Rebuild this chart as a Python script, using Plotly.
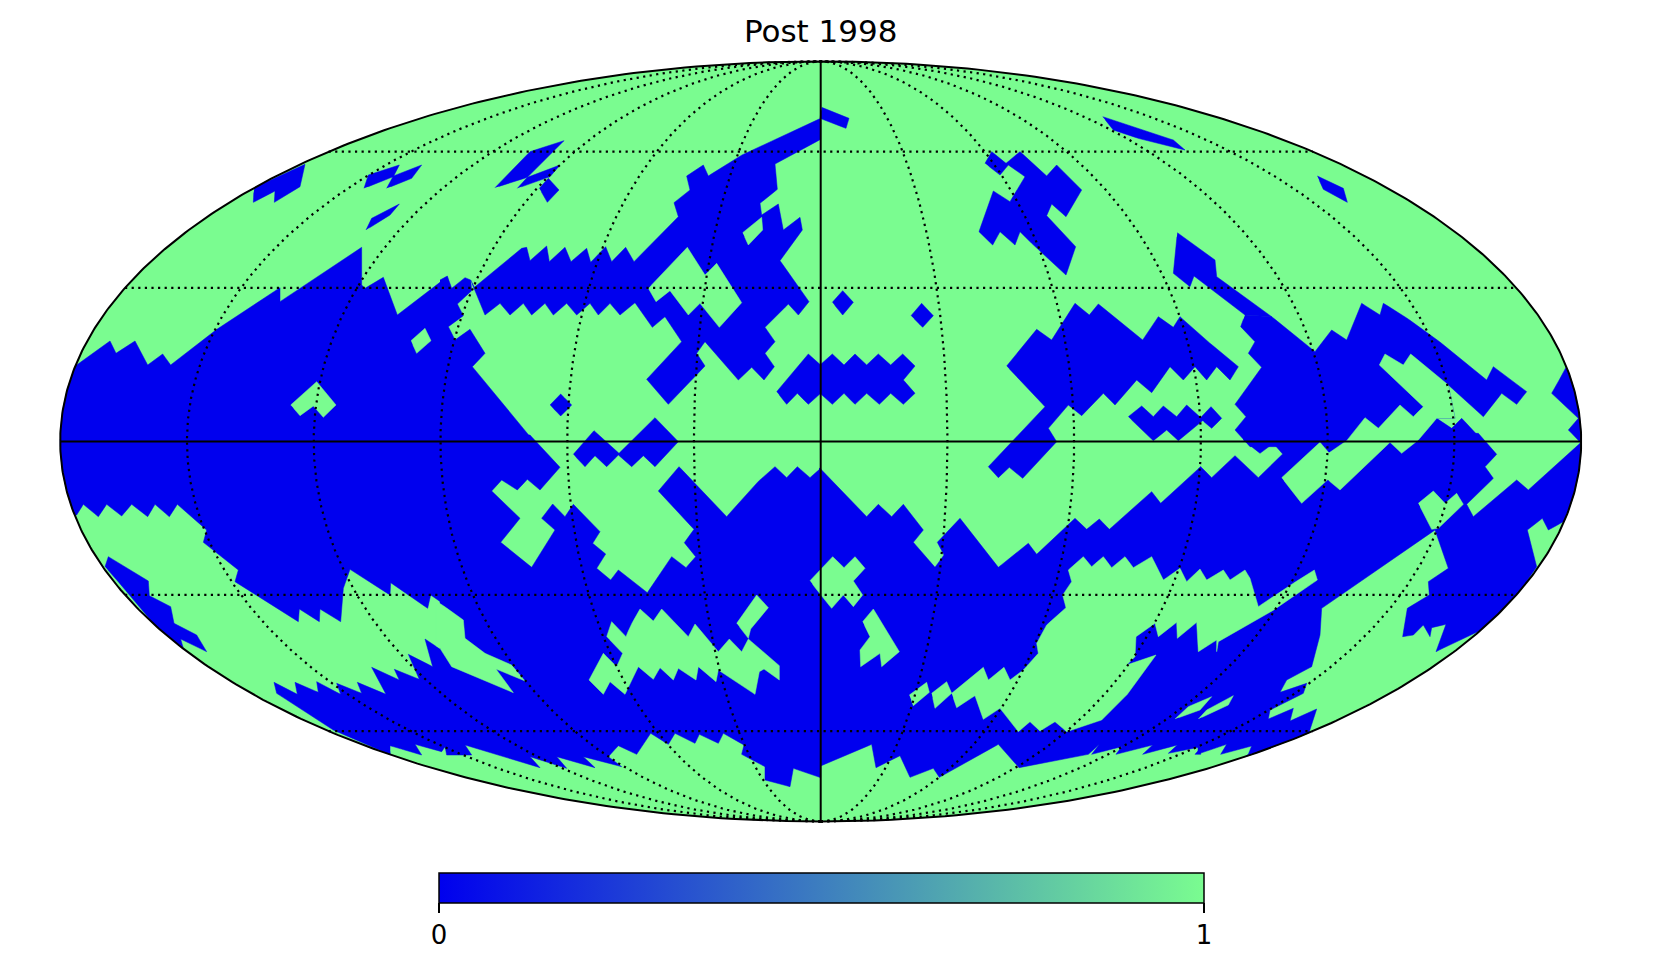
import numpy as np
import plotly.graph_objects as go

TITLE = "Post 1998"
COLORBAR_TICKS = [0, 1]
GRAT_LON = [-150, -120, -90, -60, -30, 30, 60, 90, 120, 150]
GRAT_LAT = [-60, -30, 30, 60]
BLUE = "#0000EE"
GREEN = "#7AFC90"

# Outlines of the 0-valued and 1-valued map regions, read sector by sector.
# Units: one third of a picture pixel from each sector's corner.
SECTORS = {"nw1": (50, 50), "nw2": (440, 50), "ne1": (820, 50), "ne2": (1200, 50),
           "sw1": (50, 435), "sw2": (440, 435), "se1": (820, 435), "se2": (1200, 435)}

blue_nw1 = [
    [(0,1190),(0,945),(80,945),(180,873),(198,910),(255,873),(293,945),(338,912),(362,945),(490,845),(690,713),(690,755),(935,592),(935,705),(945,715),(1000,682),(1042,795),(1170,697),(1170,1190)],
    [(612,413),(765,343),(750,410),(673,457),(675,423),(610,457)],
    [(942,415),(955,375),(1048,345),(1030,380)],
    [(1010,415),(1030,378),(1115,345),(1085,385)],
    [(948,540),(965,505),(1048,462),(1020,495)],
]
green_nw1 = [
    [(1083,872),(1125,835),(1143,872),(1100,910)],
    [(722,1065),(800,995),(858,1065),(820,1102),(790,1068),(750,1097)],
]
blue_nw2 = [
    [(165,413),(270,305),(372,272),(262,382)],
    [(232,415),(262,382),(360,345),(330,380)],
    [(298,415),(325,385),(357,420),(322,457)],
    [(0,690),(22,678),(35,715),(75,683),(92,690),(95,722),(52,762),(70,797),(25,830),(45,870),(90,838),(135,910),(97,950),(280,1172),(280,1190),(0,1190)],
    [(92,690),(103,712),(245,595),(260,592),(270,632),(320,588),(328,635),(375,592),(393,635),(440,595),(452,637),(497,590),(515,635),(557,592),(582,635),(715,500),(702,458),(750,420),(740,378),(790,345),(805,378),(895,320),(1142,205),(1142,268),(1005,342),(1012,418),(960,460),(965,495),(1015,462),(1030,540),(1080,502),(1087,540),(1020,632),(1107,755),(1075,795),(1045,762),(975,832),(1005,875),(975,910),(1003,950),(972,990),(935,952),(895,990),(795,875),(770,910),(795,948),(685,1063),(620,988),(725,875),(675,800),(637,832),(585,758),(540,795),(510,760),(475,795),(450,760),(410,795),(380,760),(340,795),(315,760),(275,795),(250,760),(210,795),(180,760),(135,795)],
    [(1010,1025),(1105,912),(1142,945),(1142,1030),(1105,1063),(1072,1030),(1040,1063)],
    [(330,1065),(362,1032),(395,1065),(362,1098)],
]
green_nw2 = [
    [(625,715),(648,755),(690,722),(745,795),(780,760),(838,832),(905,758),(830,640),(795,675),(742,592)],
    [(908,548),(965,502),(968,540),(925,585)],
]
blue_ne1 = [
    [(5,172),(87,205),(78,235),(0,205)],
    [(37,757),(68,722),(100,757),(68,795)],
    [(273,797),(305,760),(340,797),(308,832)],
    [(0,945),(37,912),(72,945),(105,912),(140,945),(175,912),(212,945),(248,912),(285,948),(250,990),(285,1030),(250,1063),(212,1030),(178,1063),(140,1030),(105,1063),(72,1030),(37,1063),(0,1030)],
    [(848,200),(950,235),(1060,270),(1095,300),(970,270),(880,240)],
    [(495,340),(515,305),(558,340),(600,305),(680,378),(710,345),(785,420),(738,500),(695,462),(680,497),(767,590),(738,675),(660,605),(600,545),(585,585),(540,545),(518,585),(477,545),(520,423),(570,455),(615,380),(565,345),(540,375)],
    [(1072,548),(1185,630),(1190,680),(1355,800),(1275,795),(1122,678),(1110,710),(1060,670)],
    [(560,948),(650,838),(695,870),(765,760),(808,795),(835,762),(968,870),(1015,800),(1060,832),(1080,800),(1140,855),(1255,950),(1230,990),(1190,950),(1160,990),(1125,950),(1090,990),(1050,950),(995,1028),(950,990),(885,1065),(850,1030),(785,1097),(745,1065),(685,1135),(710,1175),(608,1285),(568,1252),(535,1283),(505,1250),(675,1070)],
    [(925,1100),(965,1068),(1000,1100),(1030,1068),(1070,1100),(1100,1065),(1150,1110),(1115,1140),(1075,1172),(1040,1140),(1000,1172),(960,1135)],
]
blue_ne2 = [
    [(352,378),(430,415),(442,457),(370,418)],
    [(1100,950),(1055,1030),(1135,1105),(1105,1140),(1145,1180),(1160,1050)],
    [(135,795),(215,800),(345,905),(395,840),(440,870),(485,760),(540,795),(550,760),(600,790),(700,860),(860,990),(880,950),(980,1025),(950,1063),(905,1030),(850,1100),(745,1005),(765,1105),(710,1105),(655,1170),(650,1190),(150,1190),(105,1140),(138,1100),(105,1063),(185,952),(145,910),(165,875),(122,830)],
    [(655,1170),(710,1105),(755,1135),(785,1105),(850,1172),(855,1180),(650,1180)],
    [(0,1105),(33,1070),(65,1105),(35,1135)],
]
blue_sw1 = [
    [(0,0),(1200,0),(1200,520),(1142,480),(1133,520),(1022,443),(1020,480),(900,403),(880,460),(872,560),(810,522),(808,560),(748,522),(745,560),(555,440),(565,405),(460,322),(470,285),(382,208),(358,245),(315,208),(293,245),(245,208),(215,243),(170,208),(145,245),(100,208),(80,240),(0,240)],
    [(165,395),(175,365),(295,438),(298,482),(362,515),(372,565),(440,600),(470,650),(392,612),(400,640),(330,590),(240,480)],
    [(1170,642),(1125,612),(1148,695),(1075,658),(1108,733),(1033,703),(1048,735),(965,697),(1008,778),(922,742),(935,775),(860,745),(872,778),(800,740),(805,772),(735,742),(742,778),(672,742),(680,775),(850,885),(1020,960),(1020,932),(1115,960),(1095,928),(1175,950),(1185,935),(1200,955)],
]
blue_sw2 = [
    [(0,0),(270,0),(360,97),(300,165),(262,133),(232,165),(185,135),(155,168),(240,250),(182,322),(275,397),(345,285),(305,250),(338,207),(375,245),(400,208),(480,290),(458,325),(497,357),(470,400),(512,435),(535,405),(622,473),(695,365),(738,398),(767,365),(733,323),(762,283),(655,168),(717,95),(860,245),(945,148),(1005,95),(1040,128),(1072,95),(1110,128),(1142,100),(1142,1028),(1060,1000),(1050,1055),(975,1035),(975,995),(905,958),(912,930),(850,895),(835,925),(778,898),(765,925),(705,895),(685,928),(632,895),(590,958),(535,932),(505,965),(545,995),(430,965),(465,998),(350,965),(380,1000),(270,965),(300,998),(75,930),(95,960),(20,960),(15,935),(0,935)],
    [(400,58),(462,-13),(537,55),(645,-52),(715,20),(645,95),(610,62),(575,95),(535,60),(500,95),(465,62),(435,95)],
]
green_sw2 = [
    [(-12,498),(0,505),(70,555),(75,610),(135,655),(215,690),(255,738),(168,702),(220,773),(35,695),(0,640),(-12,632)],
    [(500,605),(515,560),(558,605),(570,575),(600,522),(640,558),(665,522),(745,605),(765,567),(835,650),(868,612),(905,650),(925,612),(1018,692),(1018,735),(972,702),(958,710),(945,778),(835,705),(828,740),(775,695),(768,735),(715,700),(700,735),(660,698),(640,733),(595,695),(555,778),(510,740),(490,778),(447,735),(490,655),(530,695),(548,655)],
    [(890,565),(950,480),(985,518),(932,582),(925,610)],
]
blue_se1 = [
    [(-3,100),(0,100),(140,245),(175,208),(215,245),(250,208),(310,285),(280,322),(345,397),(372,360),(352,322),(420,250),(535,397),(625,325),(650,358),(765,250),(800,283),(838,252),(868,283),(995,170),(1022,205),(1142,95),(1142,958),(1125,958),(1145,935),(1045,955),(1072,930),(968,958),(998,930),(888,958),(905,935),(815,958),(838,928),(805,958),(597,998),(535,928),(358,1027),(340,1000),(270,1027),(240,962),(168,998),(155,928),(-3,995)],
]
green_se1 = [
    [(-30,437),(38,365),(72,398),(105,365),(135,400),(100,438),(128,480),(100,515),(70,480),(35,520),(0,478)],
    [(128,560),(160,522),(238,650),(185,695),(180,655),(122,695),(120,645),(150,605)],
    [(268,780),(320,742),(328,772),(280,812)],
    [(335,775),(380,740),(395,775),(345,820)],
    [(395,775),(490,697),(505,735),(552,697),(570,735),(610,705),(655,655),(650,625),(680,570),(738,518),(728,480),(755,440),(745,405),(790,365),(815,395),(850,365),(875,398),(915,365),(940,398),(995,365),(1030,435),(1080,400),(1100,440),(1140,402),(1160,435),(1210,405),(1230,435),(1275,405),(1290,430),(1315,515),(1380,470),(1483,405),(1492,435),(1370,520),(1195,620),(1190,650),(1190,615),(1135,650),(1130,562),(1072,610),(1070,562),(1015,605),(1005,565),(948,605),(945,665),(920,690),(1008,660),(930,770),(845,855),(740,890),(705,860),(660,888),(630,860),(595,890),(540,820),(490,853),(465,782),(410,818)],
    [(1065,852),(1105,815),(1175,785),(1140,825)],
    [(1135,852),(1160,825),(1240,782),(1225,810)],
]
blue_se2 = [
    [(-6,105),(2,95),(35,128),(105,62),(175,128),(248,57),(220,25),(180,55),(130,15),(140,-5),(835,-5),(890,58),(855,95),(880,130),(800,208),(820,245),(950,135),(985,165),(1140,25),(1150,100),(1095,258),(1045,285),(1027,250),(982,285),(1010,395),(955,478),(845,585),(785,612),(708,650),(738,568),(695,578),(690,605),(670,570),(640,600),(608,605),(622,520),(688,480),(685,440),(745,400),(705,285),(590,365),(425,480),(365,520),(360,600),(335,695),(260,735),(240,772),(320,745),(310,775),(210,825),(205,852),(280,820),(270,858),(350,822),(330,885),(330,895),(140,970),(155,933),(62,958),(80,928),(0,955),(-6,950)],
]
green_se2 = [
    [(245,128),(360,22),(388,55),(388,130),(305,205)],
    [(378,130),(385,55),(440,17),(495,-52),(535,-20),(600,-90),(640,-55),(670,-85),(538,-210),(555,-243),(610,-210),(632,-243),(745,-150),(765,-50),(710,-50),(655,15),(605,55),(570,22),(420,165)],
    [(655,205),(700,168),(735,205),(770,175),(790,208),(715,280),(695,283)],
]

BLUE_REGIONS = [("nw1", blue_nw1), ("nw2", blue_nw2), ("ne1", blue_ne1), ("ne2", blue_ne2),
                ("sw1", blue_sw1), ("sw2", blue_sw2), ("se1", blue_se1), ("se2", blue_se2)]
GREEN_REGIONS = [("nw1", green_nw1), ("nw2", green_nw2), ("sw2", green_sw2),
                 ("se1", green_se1), ("se2", green_se2)]

# Map frame: Mollweide plane, where the whole sky is an ellipse 2*sqrt(2) by sqrt(2).
W, H = 1656, 968
CX, CY, RX, RY = 820.7, 441.4, 760.5, 380.0
A, B = 2 * np.sqrt(2), np.sqrt(2)
U_PER_PX, V_PER_PX = A / RX, B / RY


def read_outline(sector, outline):
    """Sector reading -> Mollweide plane, kept inside the sky ellipse."""
    ox, oy = SECTORS[sector]
    pts = np.array(outline + outline[:1], dtype=float)
    px = ox + pts[:, 0] / 3
    py = oy + pts[:, 1] / 3
    xs, ys = [], []
    for i in range(len(px) - 1):
        n = max(1, int(np.hypot(px[i + 1] - px[i], py[i + 1] - py[i]) // 4))
        t = np.arange(n) / n
        xs.extend(px[i] + (px[i + 1] - px[i]) * t)
        ys.extend(py[i] + (py[i + 1] - py[i]) * t)
    u = (np.array(xs) - CX) * U_PER_PX
    v = (CY - np.array(ys)) * V_PER_PX
    r = np.maximum(1, np.hypot(u / A, v / B))
    return u / r, v / r


def mollweide(lon_deg, lat_deg):
    lat = np.radians(lat_deg)
    th = np.array(lat, dtype=float)
    for _ in range(60):
        d = 2 * th + np.sin(2 * th) - np.pi * np.sin(lat)
        th = th - d / np.maximum(2 + 2 * np.cos(2 * th), 1e-6)
    return A * (np.asarray(lon_deg) / 180.0) * np.cos(th), B * np.sin(th)


fig = go.Figure()


def add_region(u, v, color):
    fig.add_trace(go.Scatter(x=u, y=v, mode="lines", fill="toself", fillcolor=color,
                             line=dict(color=color, width=0.5), hoverinfo="skip", showlegend=False))


sky_lat = np.linspace(-90, 90, 361)
sky_u_r, sky_v = mollweide(np.full_like(sky_lat, 180.0), sky_lat)
sky_u = np.concatenate([sky_u_r, -sky_u_r[::-1]])
sky_vv = np.concatenate([sky_v, sky_v[::-1]])
add_region(sky_u, sky_vv, GREEN)

for sector, regions in BLUE_REGIONS:
    for outline in regions:
        add_region(*read_outline(sector, outline), BLUE)
for sector, regions in GREEN_REGIONS:
    for outline in regions:
        add_region(*read_outline(sector, outline), GREEN)

DOT = dict(color="black", width=2.2, dash="2.2px,4.4px")
for lon in GRAT_LON:
    lat = np.linspace(-90, 90, 361)
    u, v = mollweide(np.full_like(lat, float(lon)), lat)
    fig.add_trace(go.Scatter(x=u, y=v, mode="lines", line=DOT, hoverinfo="skip", showlegend=False))
for la in GRAT_LAT:
    lon = np.linspace(-180, 180, 361)
    u, v = mollweide(lon, np.full_like(lon, float(la)))
    fig.add_trace(go.Scatter(x=u, y=v, mode="lines", line=DOT, hoverinfo="skip", showlegend=False))

SOLID = dict(color="black", width=2)
u, v = mollweide(np.array([-180.0, 180.0]), np.array([0.0, 0.0]))
fig.add_trace(go.Scatter(x=u, y=v, mode="lines", line=SOLID, hoverinfo="skip", showlegend=False))
lat = np.array([-90.0, 90.0])
u, v = mollweide(np.array([0.0, 0.0]), lat)
fig.add_trace(go.Scatter(x=u, y=v, mode="lines", line=SOLID, hoverinfo="skip", showlegend=False))
fig.add_trace(go.Scatter(x=sky_u, y=sky_vv, mode="lines", line=dict(color="black", width=2),
                         hoverinfo="skip", showlegend=False))

fig.add_trace(go.Scatter(
    x=[0, 0], y=[0, 0], mode="markers", hoverinfo="skip", showlegend=False,
    marker=dict(size=1, opacity=0, color=COLORBAR_TICKS, cmin=0, cmax=1,
                colorscale=[[0, BLUE], [1, GREEN]], showscale=True,
                colorbar=dict(orientation="h", x=439 / W, xanchor="left", y=1 - 873 / H, yanchor="top",
                              len=765 / W, lenmode="fraction", thickness=30, thicknessmode="pixels",
                              xpad=0, ypad=0, outlinecolor="black", outlinewidth=1.5,
                              tickmode="array", tickvals=COLORBAR_TICKS, ticktext=["0", "1"],
                              ticks="outside", ticklen=10, tickwidth=1.5, tickcolor="black",
                              tickfont=dict(family="DejaVu Sans", size=26, color="black")))))

fig.update_layout(
    width=W, height=H, paper_bgcolor="white", plot_bgcolor="white",
    margin=dict(l=0, r=0, t=0, b=0, autoexpand=False),
    title=dict(text=TITLE, x=CX / W, xanchor="center", y=1 - 31 / H, yanchor="middle",
               font=dict(family="DejaVu Sans", size=31, color="black")),
    xaxis=dict(range=[(0 - CX) * U_PER_PX, (W - CX) * U_PER_PX], visible=False, fixedrange=True),
    yaxis=dict(range=[(CY - H) * V_PER_PX, CY * V_PER_PX], visible=False, fixedrange=True),
)
fig.write_html("out.html", config={"displayModeBar": False},
               post_script="document.body.style.margin='0';document.documentElement.style.overflow='hidden';")
